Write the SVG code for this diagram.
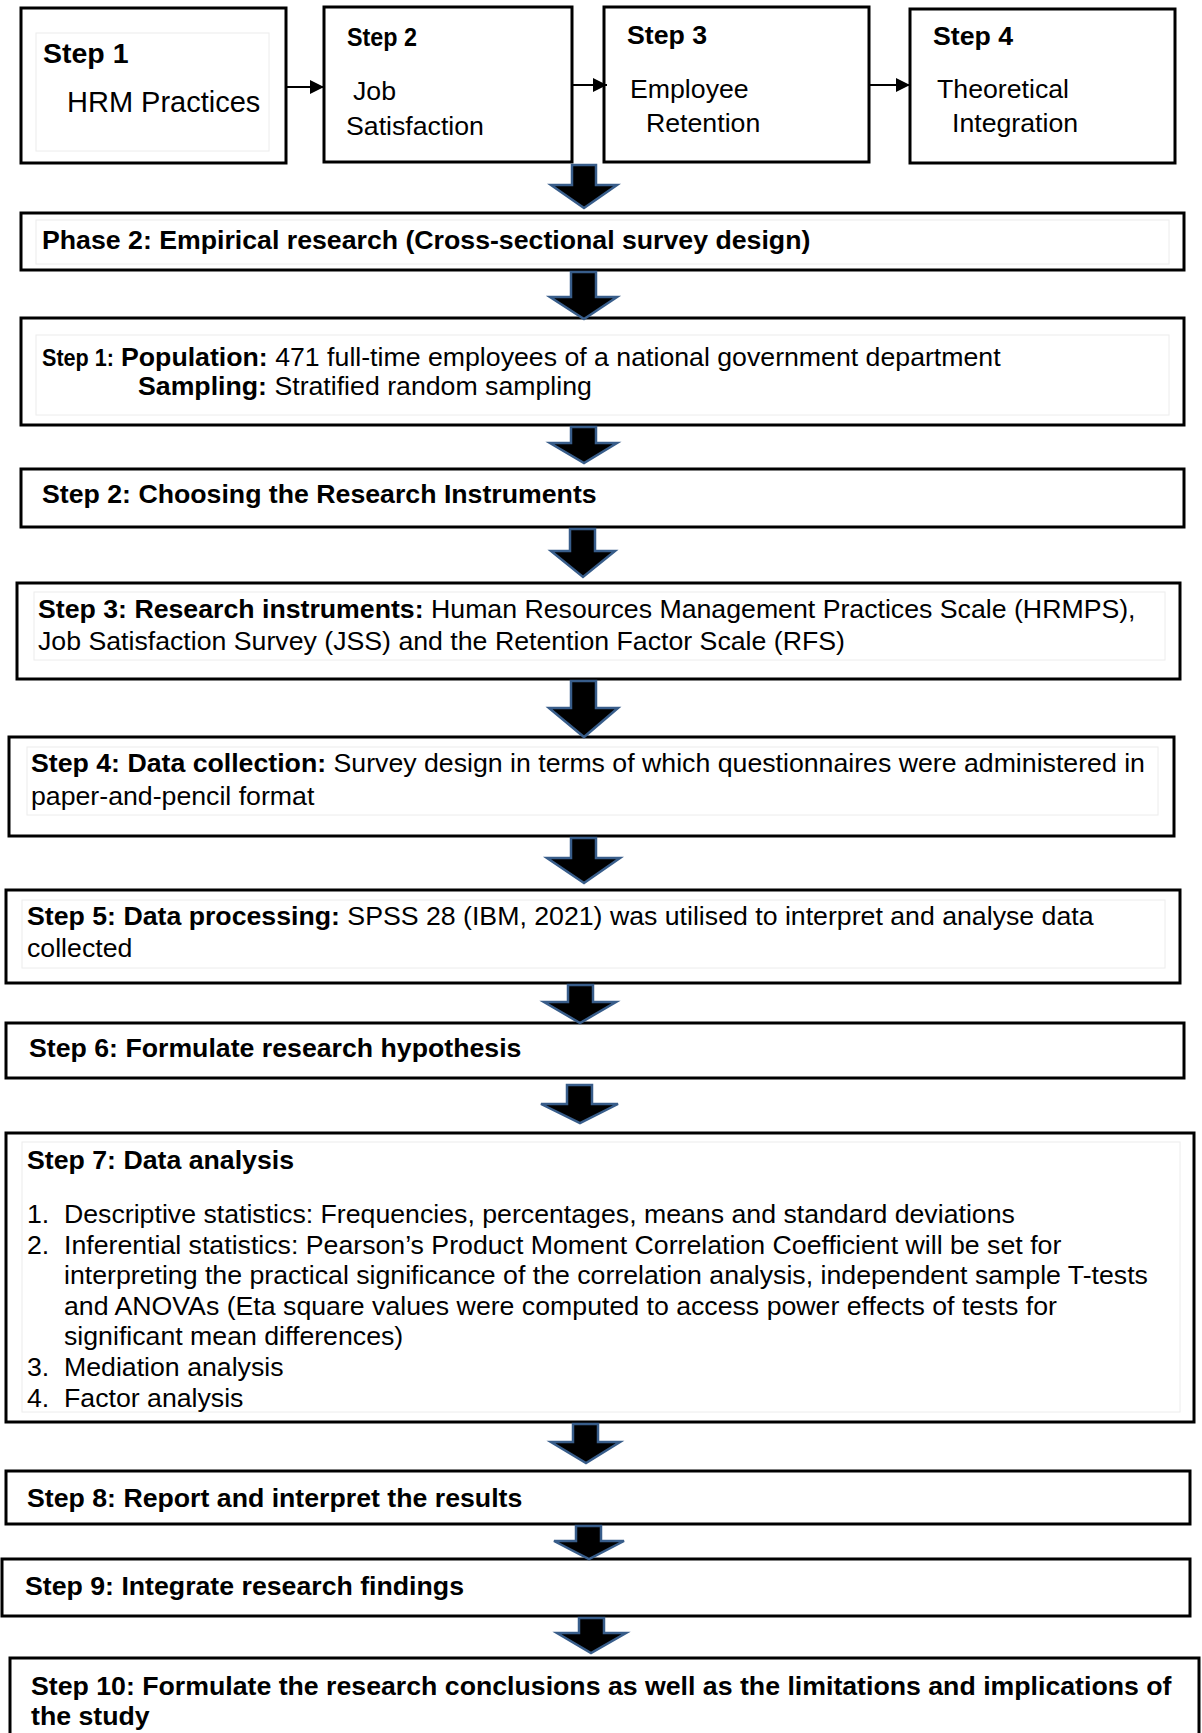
<svg xmlns="http://www.w3.org/2000/svg" width="1202" height="1733" viewBox="0 0 1202 1733">
  <defs>
    <marker id="tri" viewBox="0 0 14 14" refX="14" refY="7" markerWidth="14" markerHeight="14" markerUnits="userSpaceOnUse" orient="auto">
      <path d="M0,0 L14,7 L0,14 Z" fill="#000"/>
    </marker>
    <style>
      text { font-family: "Liberation Sans", Arial, sans-serif; fill: #000; }
      .box { fill: #fff; stroke: #000; stroke-width: 3; }
      .frame { fill: none; stroke: #ececec; stroke-width: 1; }
      .t { font-size: 26.7px; }
      .b { font-weight: bold; }
      .big { font-size: 29px; }
      .thin { stroke: #000; stroke-width: 2; fill: none; marker-end: url(#tri); }
      .block { fill: #000; stroke: #385D8A; stroke-width: 2.5; stroke-linejoin: miter; }
    </style>
  </defs>

  <rect width="1202" height="1733" fill="#fff"/>

  <!-- Phase 1 row: four steps -->
  <g id="p1-step1">
    <rect class="box" x="21" y="8" width="265" height="155"/>
    <rect class="frame" x="36" y="33" width="233" height="118"/>
    <text class="b" x="43" y="63" font-size="28.5">Step 1</text>
    <text class="big" x="67" y="112">HRM Practices</text>
  </g>
  <g id="p1-step2">
    <rect class="box" x="324" y="7" width="248" height="155"/>
    <text class="t b" x="347" y="46" textLength="70" lengthAdjust="spacingAndGlyphs">Step 2</text>
    <text class="t" x="353" y="100">Job</text>
    <text class="t" x="346" y="135">Satisfaction</text>
  </g>
  <g id="p1-step3">
    <rect class="box" x="604" y="7" width="265" height="155"/>
    <text class="t b" x="627" y="44">Step 3</text>
    <text class="t" x="630" y="98">Employee</text>
    <text class="t" x="646" y="132">Retention</text>
  </g>
  <g id="p1-step4">
    <rect class="box" x="910" y="9" width="265" height="154"/>
    <text class="t b" x="933" y="45">Step 4</text>
    <text class="t" x="937" y="98">Theoretical</text>
    <text class="t" x="952" y="132">Integration</text>
  </g>

  <!-- Phase 2 column -->
  <g id="phase2">
    <rect class="box" x="21" y="213" width="1163" height="57"/>
    <rect class="frame" x="36" y="220" width="1133" height="44"/>
    <text class="t b" x="42" y="249">Phase 2: Empirical research (Cross-sectional survey design)</text>
  </g>
  <g id="step1">
    <rect class="box" x="21" y="318" width="1163" height="107"/>
    <rect class="frame" x="36" y="335" width="1133" height="80"/>
    <text class="b" x="42" y="366" font-size="24" textLength="72" lengthAdjust="spacingAndGlyphs">Step 1:</text>
    <text class="t" x="121" y="366"><tspan class="b">Population:</tspan> 471 full-time employees of a national government department</text>
    <text class="t" x="138" y="395"><tspan class="b">Sampling:</tspan> Stratified random sampling</text>
  </g>
  <g id="step2">
    <rect class="box" x="21" y="469" width="1163" height="58"/>
    <text class="t b" x="42" y="503">Step 2: Choosing the Research Instruments</text>
  </g>
  <g id="step3">
    <rect class="box" x="17" y="583" width="1163" height="96"/>
    <rect class="frame" x="34" y="592" width="1131" height="68"/>
    <text class="t" x="38" y="618"><tspan class="b">Step 3: Research instruments:</tspan> Human Resources Management Practices Scale (HRMPS),</text>
    <text class="t" x="38" y="650">Job Satisfaction Survey (JSS) and the Retention Factor Scale (RFS)</text>
  </g>
  <g id="step4">
    <rect class="box" x="9" y="737" width="1165" height="99"/>
    <rect class="frame" x="27" y="747" width="1131" height="68"/>
    <text class="t" x="31" y="772"><tspan class="b">Step 4: Data collection:</tspan> Survey design in terms of which questionnaires were administered in</text>
    <text class="t" x="31" y="805">paper-and-pencil format</text>
  </g>
  <g id="step5">
    <rect class="box" x="6" y="890" width="1174" height="93"/>
    <rect class="frame" x="22" y="900" width="1143" height="68"/>
    <text class="t" x="27" y="925"><tspan class="b">Step 5: Data processing:</tspan> SPSS 28 (IBM, 2021) was utilised to interpret and analyse data</text>
    <text class="t" x="27" y="957">collected</text>
  </g>
  <g id="step6">
    <rect class="box" x="6" y="1023" width="1178" height="55"/>
    <text class="t b" x="29" y="1057">Step 6: Formulate research hypothesis</text>
  </g>
  <g id="step7">
    <rect class="box" x="6" y="1133" width="1188" height="289"/>
    <rect class="frame" x="22" y="1142" width="1158" height="270"/>
    <text class="t b" x="27" y="1169">Step 7: Data analysis</text>
    <text class="t" x="27" y="1223">1.</text>
    <text class="t" x="64" y="1223">Descriptive statistics: Frequencies, percentages, means and standard deviations</text>
    <text class="t" x="27" y="1254">2.</text>
    <text class="t" x="64" y="1254">Inferential statistics: Pearson’s Product Moment Correlation Coefficient will be set for</text>
    <text class="t" x="64" y="1284">interpreting the practical significance of the correlation analysis, independent sample T-tests</text>
    <text class="t" x="64" y="1315">and ANOVAs (Eta square values were computed to access power effects of tests for</text>
    <text class="t" x="64" y="1345">significant mean differences)</text>
    <text class="t" x="27" y="1376">3.</text>
    <text class="t" x="64" y="1376">Mediation analysis</text>
    <text class="t" x="27" y="1407">4.</text>
    <text class="t" x="64" y="1407">Factor analysis</text>
  </g>
  <g id="step8">
    <rect class="box" x="6" y="1471" width="1184" height="53"/>
    <text class="t b" x="27" y="1507">Step 8: Report and interpret the results</text>
  </g>
  <g id="step9">
    <rect class="box" x="2" y="1559" width="1188" height="57"/>
    <text class="t b" x="25" y="1595">Step 9: Integrate research findings</text>
  </g>
  <g id="step10">
    <rect class="box" x="10" y="1658" width="1189" height="100"/>
    <text class="t b" x="31" y="1695">Step 10: Formulate the research conclusions as well as the limitations and implications of</text>
    <text class="t b" x="31" y="1725">the study</text>
  </g>

  <!-- Connectors -->
  <g id="connectors">
    <line class="thin" x1="286" y1="87" x2="324" y2="87"/>
    <line class="thin" x1="572" y1="85" x2="607" y2="85"/>
    <line class="thin" x1="869" y1="85" x2="910" y2="85"/>

    <path class="block" d="M572,165 H596 V185 H617 L584,208 L551,185 H572 Z"/>
    <path class="block" d="M571,272 H596 V297 H617 L584,319 L550,297 H571 Z"/>
    <path class="block" d="M571,427 H596 V443 H617 L584,463 L550,443 H571 Z"/>
    <path class="block" d="M570,529 H595 V551 H615 L583,577 L551,551 H570 Z"/>
    <path class="block" d="M571,681 H596 V708 H618 L584,737 L549,708 H571 Z"/>
    <path class="block" d="M571,838 H596 V858 H620 L584,883 L547,858 H571 Z"/>
    <path class="block" d="M568,985 H593 V1002 H616 L580,1023 L544,1002 H568 Z"/>
    <path class="block" d="M567,1085 H592 V1104 H618 L580,1123 L541,1104 H567 Z"/>
    <path class="block" d="M573,1424 H598 V1442 H620 L586,1463 L551,1442 H573 Z"/>
    <path class="block" d="M576,1526 H601 V1541 H624 L589,1559 L554,1541 H576 Z"/>
    <path class="block" d="M579,1618 H604 V1633 H626 L591,1653 L557,1633 H579 Z"/>
  </g>
</svg>
